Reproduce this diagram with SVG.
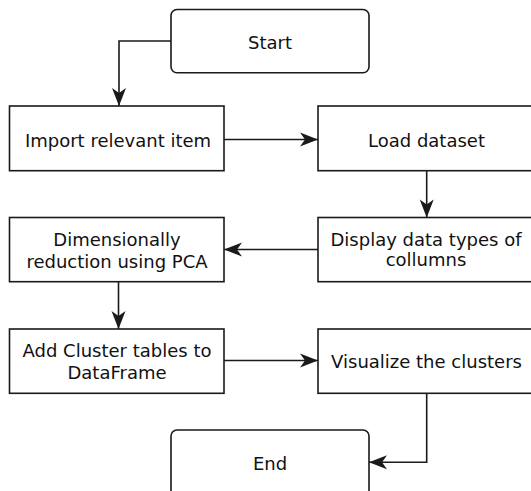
<svg xmlns="http://www.w3.org/2000/svg" width="531" height="491" viewBox="0 0 531 491">
  <style>
    .box { fill: #ffffff; stroke: #1a1a1a; stroke-width: 1.6; }
    .lbl { font-family: "DejaVu Sans", "Liberation Sans", sans-serif; font-size: 18px; fill: #111111; text-anchor: middle; }
    .edge { fill: none; stroke: #1a1a1a; stroke-width: 1.6; }
  </style>
  <defs>
    <marker id="arrow" markerUnits="userSpaceOnUse" markerWidth="20" markerHeight="16" viewBox="-19 -8 20 16" refX="0" refY="0" orient="auto">
      <path d="M0,0 L-18,-7 L-13,0 L-18,7 Z" fill="#1a1a1a"/>
    </marker>
  </defs>

  <g id="connectors">
    <path class="edge" d="M171,41 H119 V106" marker-end="url(#arrow)"/>
    <path class="edge" d="M224,139.5 H318" marker-end="url(#arrow)"/>
    <path class="edge" d="M426.7,170.7 V217.5" marker-end="url(#arrow)"/>
    <path class="edge" d="M318,249.5 H224" marker-end="url(#arrow)"/>
    <path class="edge" d="M118.5,281.7 V329" marker-end="url(#arrow)"/>
    <path class="edge" d="M224,360.5 H318" marker-end="url(#arrow)"/>
    <path class="edge" d="M426.7,393.3 V462.3 H369" marker-end="url(#arrow)"/>
  </g>

  <g id="start">
    <rect class="box" x="171" y="9.5" width="198" height="63.2" rx="6"/>
    <text class="lbl" x="270" y="48.5">Start</text>
  </g>
  <g id="import">
    <rect class="box" x="9.5" y="106" width="214.5" height="64.7"/>
    <text class="lbl" x="118" y="146.5">Import relevant item</text>
  </g>
  <g id="load">
    <rect class="box" x="318" y="106" width="214.5" height="64.7"/>
    <text class="lbl" x="426.5" y="146.5">Load dataset</text>
  </g>
  <g id="display">
    <rect class="box" x="318" y="217.5" width="214.5" height="64.2"/>
    <text class="lbl" x="426" y="246">Display data types of</text>
    <text class="lbl" x="426" y="266">collumns</text>
  </g>
  <g id="reduction">
    <rect class="box" x="9.5" y="217.5" width="214.5" height="64.2"/>
    <text class="lbl" x="117" y="245.5">Dimensionally</text>
    <text class="lbl" x="117" y="267.5">reduction using PCA</text>
  </g>
  <g id="clusters">
    <rect class="box" x="9.5" y="329" width="214.5" height="64.3"/>
    <text class="lbl" x="117" y="357">Add Cluster tables to</text>
    <text class="lbl" x="117" y="379">DataFrame</text>
  </g>
  <g id="visualize">
    <rect class="box" x="318" y="329" width="214.5" height="64.3"/>
    <text class="lbl" x="426.5" y="367.5">Visualize the clusters</text>
  </g>
  <g id="end">
    <rect class="box" x="171" y="430" width="198" height="70" rx="6"/>
    <text class="lbl" x="270" y="469.5">End</text>
  </g>
</svg>
